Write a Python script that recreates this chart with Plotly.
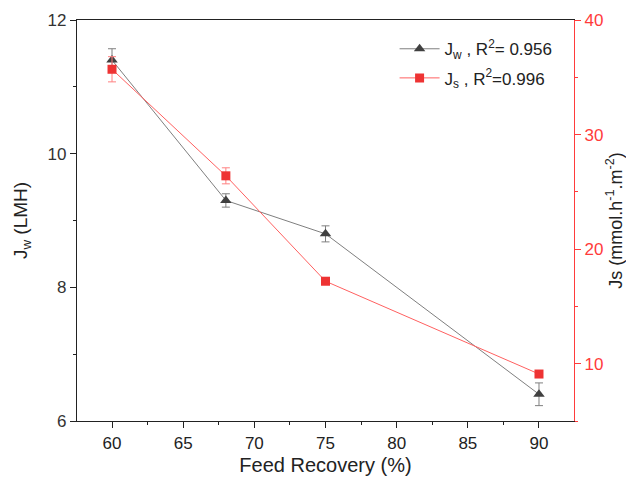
import plotly.graph_objects as go

recovery = [60, 68, 75, 90]
jw = [11.4, 9.3, 8.8, 6.4]
jw_err = [0.17, 0.1, 0.12, 0.17]
js = [35.7, 26.4, 17.2, 9.1]
js_err = [1.1, 0.7, 0.3, 0.3]

FONT = "Liberation Sans, Arial, sans-serif"
RED = "#ff3b3b"

fig = go.Figure()
fig.add_trace(go.Scatter(
    x=recovery, y=jw, mode="lines+markers", name="J<sub>w</sub> , R<sup>2</sup>= 0.956",
    legendgroup="a",
    line=dict(color="#7f7f7f", width=1),
    marker=dict(symbol="triangle-up", size=10, color="#404040"),
    error_y=dict(type="data", array=jw_err, color="#7f7f7f", thickness=1, width=4),
    yaxis="y"))
fig.add_trace(go.Scatter(
    x=recovery, y=js, mode="lines+markers", name="J<sub>s</sub> , R<sup>2</sup>=0.996",
    legendgroup="b",
    line=dict(color="#ff6060", width=1),
    marker=dict(symbol="square", size=9, color="#ee3333"),
    error_y=dict(type="data", array=js_err, color="#ff8080", thickness=1, width=4),
    yaxis="y2"))

fig.update_layout(
    width=626, height=478,
    margin=dict(l=69, r=60, t=12, b=65, autoexpand=False),
    plot_bgcolor="white", paper_bgcolor="white",
    font=dict(family=FONT, size=17, color="#222"),
    showlegend=True,
    legend=dict(x=0.639, y=0.972, xanchor="left", yanchor="top",
                bgcolor="rgba(0,0,0,0)", font=dict(size=17, color="#222"),
                tracegroupgap=4, itemwidth=40),
    xaxis=dict(range=[57.54, 92.46], tickvals=[60, 65, 70, 75, 80, 85, 90],
               automargin=False,
               showline=True, linecolor="#222", linewidth=1.2, mirror=True,
               ticks="outside", ticklen=6, tickcolor="#222",
               minor=dict(dtick=2.5, tick0=57.5, ticks="outside", ticklen=3, tickcolor="#222"),
               showgrid=False, zeroline=False,
               tickfont=dict(size=17, color="#222"),
               title=dict(text="Feed Recovery (%)", font=dict(size=20, color="#222"), standoff=6)),
    yaxis=dict(range=[6, 12], tickvals=[6, 8, 10, 12],
               automargin=False,
               showline=True, linecolor="#222", linewidth=1.2,
               ticks="outside", ticklen=6, tickcolor="#222",
               minor=dict(dtick=1, ticks="outside", ticklen=3, tickcolor="#222"),
               showgrid=False, zeroline=False,
               tickfont=dict(size=17, color="#333"),
               title=dict(text="J<sub>w</sub> (LMH)", font=dict(size=19, color="#222"), standoff=14)),
    yaxis2=dict(range=[5, 40], tickvals=[10, 20, 30, 40], overlaying="y", side="right",
                automargin=False,
                showline=True, linecolor=RED, linewidth=1.2,
                ticks="outside", ticklen=6, tickcolor=RED,
                minor=dict(dtick=5, tick0=0, ticks="outside", ticklen=3, tickcolor=RED),
                showgrid=False, zeroline=False,
                tickfont=dict(size=17, color=RED),
                title=dict(text="Js (mmol.h<sup>-1</sup>.m<sup>-2</sup>)", font=dict(size=18, color="#222"), standoff=2)),
)

fig.write_html("out.html")
